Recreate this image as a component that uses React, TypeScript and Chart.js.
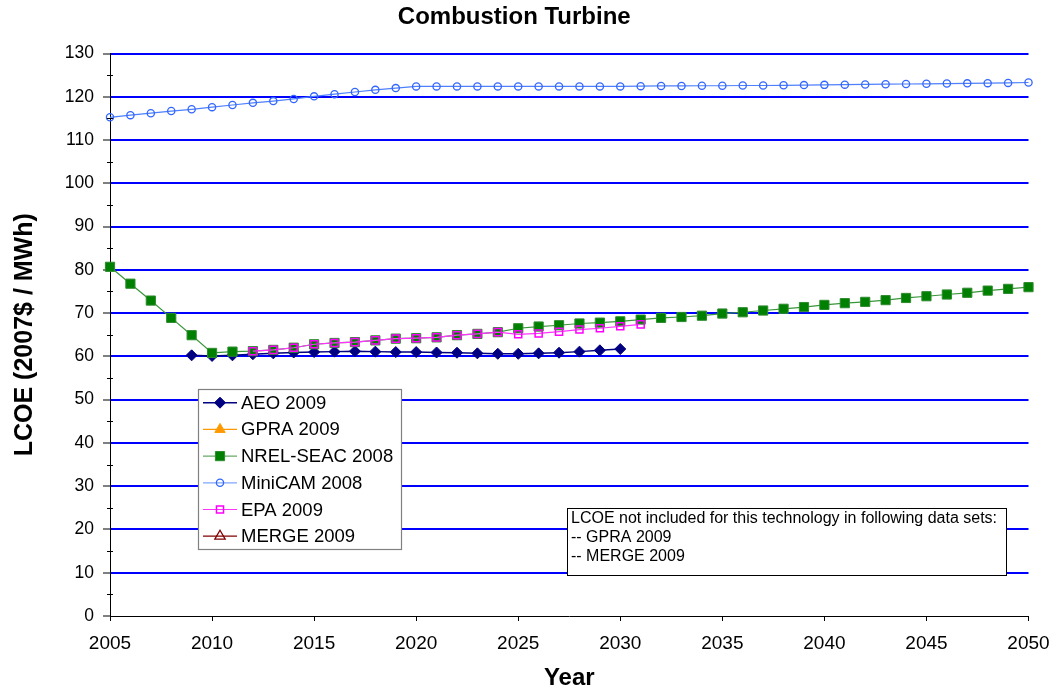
import React, { useEffect, useRef } from 'react';
import { Chart, registerables } from 'chart.js';

Chart.register(...registerables);

const FONT = "'Liberation Sans', Arial, Helvetica, sans-serif";

const CHART_TITLE = 'Combustion Turbine';
const X_TITLE = 'Year';
const Y_TITLE = 'LCOE (2007$ / MWh)';

const YEARS = [
  2005, 2006, 2007, 2008, 2009, 2010, 2011, 2012, 2013, 2014,
  2015, 2016, 2017, 2018, 2019, 2020, 2021, 2022, 2023, 2024,
  2025, 2026, 2027, 2028, 2029, 2030, 2031, 2032, 2033, 2034,
  2035, 2036, 2037, 2038, 2039, 2040, 2041, 2042, 2043, 2044,
  2045, 2046, 2047, 2048, 2049, 2050,
];

const _ = null;

const AEO_2009 = [
  _, _, _, _, 60.25, 60.1, 60.25, 60.5, 60.7, 60.9,
  61.0, 61.1, 61.2, 61.1, 61.0, 61.0, 60.9, 60.85, 60.7, 60.6,
  60.6, 60.7, 60.85, 61.1, 61.4, 61.7, _, _, _, _,
  _, _, _, _, _, _, _, _, _, _,
  _, _, _, _, _, _,
];

const GPRA_2009: (number | null)[] = [];

const NREL_SEAC_2008 = [
  80.7, 76.8, 72.9, 68.9, 64.9, 60.8, 61.1, 61.2, 61.5, 62.0,
  62.8, 63.1, 63.3, 63.7, 64.1, 64.2, 64.4, 64.9, 65.2, 65.6,
  66.5, 66.9, 67.2, 67.6, 67.8, 68.1, 68.5, 68.9, 69.1, 69.4,
  69.9, 70.2, 70.6, 71.0, 71.4, 71.9, 72.3, 72.6, 73.0, 73.5,
  73.9, 74.3, 74.7, 75.2, 75.6, 76.0,
];

const MINICAM_2008 = [
  115.25, 115.75, 116.2, 116.7, 117.1, 117.6, 118.1, 118.6, 119.0, 119.5,
  120.1, 120.6, 121.1, 121.6, 122.0, 122.4, 122.4, 122.4, 122.4, 122.4,
  122.4, 122.4, 122.4, 122.4, 122.4, 122.4, 122.45, 122.5, 122.5, 122.55,
  122.55, 122.6, 122.6, 122.65, 122.7, 122.75, 122.8, 122.85, 122.9, 122.95,
  123.0, 123.05, 123.1, 123.15, 123.2, 123.3,
];

const EPA_2009 = [
  _, _, _, _, _, _, _, 61.2, 61.5, 62.0,
  62.8, 63.1, 63.3, 63.7, 64.1, 64.2, 64.4, 64.9, 65.2, 65.6,
  65.1, 65.3, 65.7, 66.2, 66.5, 66.95, 67.4, _, _, _,
  _, _, _, _, _, _, _, _, _, _,
  _, _, _, _, _, _,
];

const MERGE_2009: (number | null)[] = [];

const Y_MIN = 0;
const Y_MAX = 130;
const Y_STEP = 10;
const X_MIN = 2005;
const X_MAX = 2050;
const X_STEP = 5;

const NOTE_LINES = [
  'LCOE not included for this technology in following data sets:',
  '-- GPRA 2009',
  '-- MERGE 2009',
];

function toPoints(values: (number | null)[]) {
  const pts: { x: number; y: number }[] = [];
  values.forEach((v, i) => {
    if (v !== null && v !== undefined) pts.push({ x: YEARS[i], y: v });
  });
  return pts;
}

function drawMarker(ctx: CanvasRenderingContext2D, style: string, x: number, y: number, r: number) {
  ctx.beginPath();
  if (style === 'rectRot') {
    ctx.moveTo(x - r, y);
    ctx.lineTo(x, y - r);
    ctx.lineTo(x + r, y);
    ctx.lineTo(x, y + r);
    ctx.closePath();
  } else if (style === 'rect') {
    const s = Math.SQRT1_2 * r;
    ctx.rect(x - s, y - s, 2 * s, 2 * s);
  } else if (style === 'triangle') {
    let rad = 0;
    ctx.moveTo(x + Math.sin(rad) * r, y - Math.cos(rad) * r);
    rad += (2 * Math.PI) / 3;
    ctx.lineTo(x + Math.sin(rad) * r, y - Math.cos(rad) * r);
    rad += (2 * Math.PI) / 3;
    ctx.lineTo(x + Math.sin(rad) * r, y - Math.cos(rad) * r);
    ctx.closePath();
  } else {
    ctx.arc(x, y, r, 0, Math.PI * 2);
  }
}

const overlayPlugin = {
  id: 'overlay',
  afterDraw(chart: any) {
    const { ctx, chartArea } = chart;
    const yScale = chart.scales.y;
    ctx.save();

    // minor ticks on the y axis (crossing)
    ctx.strokeStyle = '#000';
    ctx.lineWidth = 1;
    for (let v = Y_MIN + Y_STEP / 2; v < Y_MAX; v += Y_STEP) {
      const py = Math.round(yScale.getPixelForValue(v)) + 0.5;
      ctx.beginPath();
      ctx.moveTo(chartArea.left - 3, py);
      ctx.lineTo(chartArea.left + 3, py);
      ctx.stroke();
    }

    // legend
    const lx = 198, ly = 389, lw = 203, lh = 160;
    ctx.fillStyle = '#fff';
    ctx.fillRect(lx, ly, lw, lh);
    ctx.strokeStyle = '#808080';
    ctx.lineWidth = 1.2;
    ctx.strokeRect(lx + 0.5, ly + 0.5, lw, lh);
    ctx.font = `18.5px ${FONT}`;
    ctx.textBaseline = 'middle';
    ctx.textAlign = 'left';
    chart.data.datasets.forEach((ds: any, i: number) => {
      const cy = 402.7 + i * 26.7;
      ctx.strokeStyle = ds.legendLineColor || ds.borderColor;
      ctx.lineWidth = ds.borderWidth;
      ctx.beginPath();
      ctx.moveTo(203, cy);
      ctx.lineTo(237, cy);
      ctx.stroke();
      drawMarker(ctx, ds.pointStyle, 220, cy, ds.pointRadius);
      ctx.fillStyle = ds.pointBackgroundColor;
      ctx.fill();
      ctx.strokeStyle = ds.pointBorderColor;
      ctx.lineWidth = ds.pointBorderWidth;
      ctx.stroke();
      ctx.fillStyle = '#000';
      ctx.fillText(ds.label, 241, cy + 1);
    });

    // note box
    const nx = 567, ny = 508, nw = 439, nh = 67;
    ctx.fillStyle = '#fff';
    ctx.fillRect(nx, ny, nw, nh);
    ctx.strokeStyle = '#000';
    ctx.lineWidth = 1;
    ctx.strokeRect(nx + 0.5, ny + 0.5, nw, nh);
    ctx.font = `16px ${FONT}`;
    ctx.fillStyle = '#000';
    NOTE_LINES.forEach((t, i) => {
      ctx.fillText(t, 571, 519 + i * 18.8);
    });

    ctx.restore();
  },
};

export default function App() {
  const ref = useRef<HTMLCanvasElement | null>(null);

  useEffect(() => {
    document.body.style.margin = '0';
    document.body.style.overflow = 'hidden';
    const canvas = ref.current;
    if (!canvas) return;

    const datasets: any[] = [
      {
        label: 'AEO 2009',
        data: toPoints(AEO_2009),
        borderColor: '#000080',
        borderWidth: 1.5,
        pointStyle: 'rectRot',
        pointRadius: 5.5,
        pointBackgroundColor: '#000080',
        pointBorderColor: '#000080',
        pointBorderWidth: 1,
        order: 6,
      },
      {
        label: 'GPRA 2009',
        data: toPoints(GPRA_2009),
        borderColor: '#FF9900',
        borderWidth: 1.2,
        pointStyle: 'triangle',
        pointRadius: 6,
        pointBackgroundColor: '#FF9900',
        pointBorderColor: '#FF9900',
        pointBorderWidth: 1,
        order: 5,
      },
      {
        label: 'NREL-SEAC 2008',
        data: toPoints(NREL_SEAC_2008),
        borderColor: '#3A963A',
        legendLineColor: '#66AA66',
        borderWidth: 1.2,
        pointStyle: 'rect',
        pointRadius: 6.5,
        pointBackgroundColor: '#008000',
        pointBorderColor: '#2E8B2E',
        pointBorderWidth: 1,
        order: 4,
      },
      {
        label: 'MiniCAM 2008',
        data: toPoints(MINICAM_2008),
        borderColor: '#4D7FFF',
        legendLineColor: '#7FA3FF',
        borderWidth: 1.2,
        pointStyle: 'circle',
        pointRadius: 3.6,
        pointBackgroundColor: 'rgba(0,0,0,0)',
        pointBorderColor: '#3366FF',
        pointBorderWidth: 1.3,
        order: 3,
      },
      {
        label: 'EPA 2009',
        data: toPoints(EPA_2009),
        borderColor: '#FF33FF',
        borderWidth: 1.2,
        pointStyle: 'rect',
        pointRadius: 5,
        pointBackgroundColor: 'rgba(0,0,0,0)',
        pointBorderColor: '#FF00FF',
        pointBorderWidth: 1.5,
        order: 2,
      },
      {
        label: 'MERGE 2009',
        data: toPoints(MERGE_2009),
        borderColor: '#800000',
        borderWidth: 1.2,
        pointStyle: 'triangle',
        pointRadius: 6,
        pointBackgroundColor: 'rgba(0,0,0,0)',
        pointBorderColor: '#800000',
        pointBorderWidth: 1.3,
        order: 1,
      },
    ];

    datasets.forEach((d) => {
      d.pointHoverRadius = d.pointRadius;
      d.fill = false;
      d.tension = 0;
      d.clip = false;
    });

    const chart = new Chart(canvas, {
      type: 'line',
      data: { datasets },
      plugins: [overlayPlugin],
      options: {
        responsive: false,
        animation: false,
        devicePixelRatio: 1,
        layout: { padding: { left: 0, right: 25.5, top: 0, bottom: 0 } },
        plugins: {
          legend: { display: false },
          tooltip: { enabled: false },
          title: {
            display: true,
            text: CHART_TITLE,
            color: '#000',
            font: { family: FONT, size: 24, weight: 'bold' },
            padding: { top: 3, bottom: 21.7 },
          },
        },
        scales: {
          x: {
            type: 'linear',
            min: X_MIN,
            max: X_MAX,
            afterFit: (s: any) => {
              s.height = 75;
              s.paddingLeft = 0;
              s.paddingRight = 0;
            },
            ticks: {
              stepSize: X_STEP,
              autoSkip: false,
              maxRotation: 0,
              padding: 11,
              color: '#000',
              font: { family: FONT, size: 19 },
              callback: (v: any) => String(v),
            },
            grid: {
              drawOnChartArea: false,
              drawTicks: true,
              tickLength: 5,
              tickColor: '#000',
              tickWidth: 1,
              color: '#000',
            },
            border: { display: true, color: '#000', width: 1 },
            title: {
              display: true,
              text: X_TITLE,
              color: '#000',
              font: { family: FONT, size: 24, weight: 'bold', lineHeight: 1 },
              padding: { top: 0, bottom: 1 },
            },
          },
          y: {
            type: 'linear',
            min: Y_MIN,
            max: Y_MAX,
            afterFit: (s: any) => {
              s.width = 110;
              s.paddingTop = 0;
              s.paddingBottom = 0;
            },
            ticks: {
              stepSize: Y_STEP,
              padding: 9,
              color: '#000',
              font: { family: FONT, size: 17.5 },
            },
            grid: {
              color: (c: any) => (c.tick && c.tick.value === 0 ? 'rgba(0,0,0,0)' : '#0000FF'),
              lineWidth: 2,
              drawTicks: true,
              tickLength: 7,
              tickColor: '#000',
              tickWidth: 1,
            },
            border: { display: true, color: '#000', width: 1 },
            title: {
              display: true,
              text: Y_TITLE,
              color: '#000',
              font: { family: FONT, size: 25, weight: 'bold' },
              padding: { top: 10, bottom: 0 },
            },
          },
        },
      } as any,
    });

    return () => {
      chart.destroy();
    };
  }, []);

  return (
    <div style={{ width: 1054, height: 691 }}>
      <canvas ref={ref} width={1054} height={691} style={{ display: 'block' }} />
    </div>
  );
}
